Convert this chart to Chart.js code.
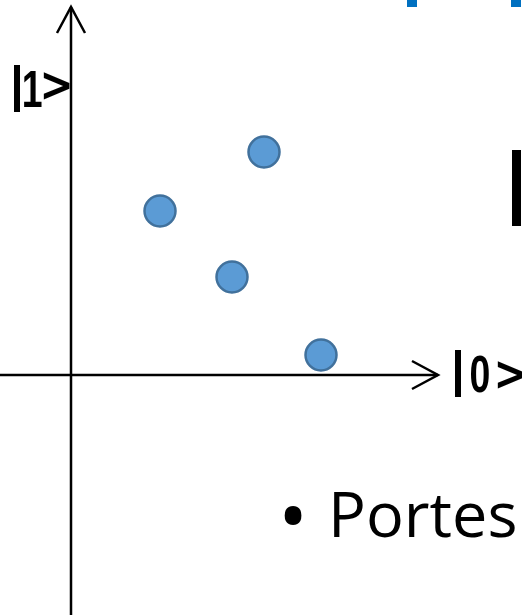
<!DOCTYPE html>
<html>
<head>
<meta charset="utf-8">
<script src="https://cdn.jsdelivr.net/npm/chart.js@4"></script>
<style>
    body { margin: 0; background: #ffffff; }
    .wrap { width: 522px; height: 615px; position: relative; }
</style>
</head>
<body>
<div class="wrap"><canvas class="stateChart"></canvas></div>
<script>
// state points (axis units, |0> horizontal, |1> vertical)
const xValues = [0.772, 0.356, 0.644, 1.0];
const yValues = [0.892, 0.656, 0.392, 0.08];
const axisLabels = ['|1>', '|0>'];
const bulletText = 'Portes';

const points = xValues.map(function(x, i) {
    return { x: x, y: yValues[i] };
});

// axes, arrows, kets and the slide fragments
const slidePlugin = {
    id: 'slide',
    beforeDatasetsDraw: function(chart) {
        const ctx = chart.ctx;
        const xs = chart.scales.x;
        const ys = chart.scales.y;
        const x0 = xs.getPixelForValue(0);
        const y0 = ys.getPixelForValue(0);
        const xEnd = xs.getPixelForValue(1.468);
        const yEnd = ys.getPixelForValue(1.472);

        ctx.save();
        ctx.strokeStyle = '#000000';
        ctx.lineWidth = 2.5;
        ctx.lineCap = 'butt';

        ctx.beginPath();
        ctx.moveTo(x0, chart.height);
        ctx.lineTo(x0, yEnd);
        ctx.moveTo(0, y0);
        ctx.lineTo(xEnd, y0);
        ctx.stroke();

        // arrow heads
        ctx.lineJoin = 'miter';
        ctx.beginPath();
        ctx.moveTo(x0 - 14, yEnd + 26);
        ctx.lineTo(x0, yEnd);
        ctx.lineTo(x0 + 14, yEnd + 26);
        ctx.moveTo(xEnd - 26, y0 - 14);
        ctx.lineTo(xEnd, y0);
        ctx.lineTo(xEnd - 26, y0 + 14);
        ctx.stroke();
        ctx.restore();
    },
    afterDatasetsDraw: function(chart) {
        const ctx = chart.ctx;
        ctx.save();
        ctx.fillStyle = '#000000';
        ctx.textAlign = 'left';
        ctx.textBaseline = 'alphabetic';

        // draw a glyph so that its ink box is centred on (cx, cy)
        function inkCentered(ch, cx, cy, sx) {
            const m = ctx.measureText(ch);
            const w = m.actualBoundingBoxLeft + m.actualBoundingBoxRight;
            const by = cy + (m.actualBoundingBoxAscent - m.actualBoundingBoxDescent) / 2;
            ctx.save();
            ctx.translate(cx, by);
            ctx.scale(sx, 1);
            ctx.fillText(ch, -w / 2 + m.actualBoundingBoxLeft, 0);
            ctx.restore();
        }

        function drawKet(label, left, top, digitCx, chevCx, chevCy) {
            const chars = label.split('');
            ctx.fillRect(left, top, 6, 47);
            ctx.font = 'bold 52px "Liberation Sans"';
            inkCentered(chars[1], digitCx, top + 23.5, 0.72);
            ctx.font = 'bold 48px "DejaVu Sans"';
            inkCentered(chars[2], chevCx, chevCy, 0.85);
        }
        drawKet(axisLabels[0], 14, 65, 33, 57, 86);
        drawKet(axisLabels[1], 455, 350, 480, 511, 375);

        // bullet line cut by the slide edge
        ctx.font = '80px "Open Sans"';
        ctx.fillText('\u2022', 278, 545);
        ctx.font = '63px "Open Sans"';
        ctx.fillText(bulletText, 328, 537);

        // fragments of other slide text
        ctx.fillRect(512, 150, 9, 76);
        ctx.fillStyle = '#0070C0';
        ctx.fillRect(407, 0, 10, 7);
        ctx.fillRect(511, 0, 10, 7);
        ctx.restore();
    }
};

const stateCtx = document.querySelector('.stateChart').getContext('2d');
const stateChart = new Chart(stateCtx, {
    type: 'scatter',
    data: {
        datasets: [{
            label: 'states',
            data: points,
            backgroundColor: '#5B9BD5',
            borderColor: '#41719C',
            borderWidth: 2.5,
            pointRadius: 15.5,
            pointHoverRadius: 15.5,
            clip: false
        }]
    },
    options: {
        responsive: true,
        maintainAspectRatio: false,
        animation: false,
        layout: { padding: 0, autoPadding: false },
        plugins: {
            legend: { display: false },
            tooltip: { enabled: false }
        },
        scales: {
            x: { type: 'linear', min: -0.284, max: 1.804, display: false },
            y: { type: 'linear', min: -0.96, max: 1.5, display: false }
        }
    },
    plugins: [slidePlugin]
});
</script>
</body>
</html>
